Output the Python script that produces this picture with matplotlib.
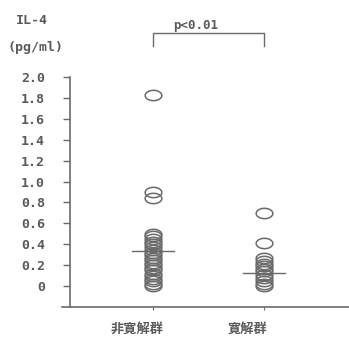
import numpy as np
import matplotlib.pyplot as plt
import matplotlib.transforms as mtransforms
from matplotlib.path import Path

plt.rcParams['font.family'] = ['Noto Sans CJK JP', 'DejaVu Sans']

# data (pg/ml)
groups = ['非寛解群', '寛解群']
non_remission = [1.83, 0.90, 0.84, 0.50, 0.48, 0.45, 0.42, 0.40, 0.37, 0.35,
                 0.32, 0.30, 0.27, 0.25, 0.22, 0.20, 0.17, 0.15, 0.12, 0.10,
                 0.07, 0.05, 0.02, 0.0]
remission = [0.70, 0.41, 0.27, 0.24, 0.21, 0.19, 0.16, 0.14, 0.11, 0.08,
             0.05, 0.02, 0.0]
medians = [0.34, 0.13]
yticks = [0, 0.2, 0.4, 0.6, 0.8, 1.0, 1.2, 1.4, 1.6, 1.8, 2.0]
ytick_labels = ['0', '0.2', '0.4', '0.6', '0.8', '1.0', '1.2', '1.4', '1.6', '1.8', '2.0']
p_text = 'p<0.01'

gray = '#6a6a6a'
text_gray = '#5a5a5a'

# flat ellipse marker, like the printed circles
t = np.linspace(0, 2 * np.pi, 60)
ellipse = Path(np.column_stack([np.cos(t), 0.62 * np.sin(t)]), closed=True)

fig = plt.figure(figsize=(3.49, 3.39), dpi=100)
ax = fig.add_axes([70 / 349, 32 / 339, 279 / 349, 230 / 339])

for i, vals in enumerate([non_remission, remission]):
    xs = np.full(len(vals), i + 1.0)
    ax.plot(xs, vals, linestyle='none', marker=ellipse, markersize=12,
            markerfacecolor='none', markeredgecolor=gray, markeredgewidth=1.1,
            clip_on=False)
    ax.plot([i + 1 - 0.19, i + 1 + 0.19], [medians[i], medians[i]],
            color=gray, lw=1.0, clip_on=False)

ax.set_xlim(0.252, 2.766)
ax.set_ylim(-0.2, 2.0)

for s in ['top', 'right', 'bottom']:
    ax.spines[s].set_visible(False)
ax.spines['left'].set_color(gray)
ax.spines['left'].set_linewidth(1.2)
# bottom axis line runs a bit past the y axis
ax.plot([0.18, 2.766], [-0.2, -0.2], color=gray, lw=1.2, clip_on=False)

ax.set_yticks(yticks)
ax.set_yticklabels(ytick_labels, family='DejaVu Sans Mono', fontsize=9.5,
                   fontweight='bold', color=text_gray)
ax.tick_params(axis='y', direction='out', length=5, width=1, color=gray, pad=13)

ax.set_xticks([1, 2])
ax.set_xticklabels(groups, fontsize=9.5, fontweight='bold', color=text_gray)
ax.tick_params(axis='x', direction='out', length=2, width=0.8, color=gray, pad=9)
shift = mtransforms.ScaledTranslation(-16 / 100, 0, fig.dpi_scale_trans)
for lbl in ax.get_xticklabels():
    lbl.set_transform(lbl.get_transform() + shift)

# significance bracket
ax.plot([1, 1, 2, 2], [2.30, 2.417, 2.417, 2.30], color=gray, lw=1.0, clip_on=False)
ax.text(1.38, 2.49, p_text, ha='center', va='center', family='DejaVu Sans Mono',
        fontsize=9, fontweight='bold', color=text_gray)

fig.text(32 / 349, 1 - 20 / 339, 'IL-4', ha='center', va='center',
         family='DejaVu Sans Mono', fontsize=9.5, fontweight='bold', color=text_gray)
fig.text(35 / 349, 1 - 48 / 339, '(pg/ml)', ha='center', va='center',
         family='DejaVu Sans Mono', fontsize=9.5, fontweight='bold', color=text_gray)

fig.savefig('out.png', dpi=100)
